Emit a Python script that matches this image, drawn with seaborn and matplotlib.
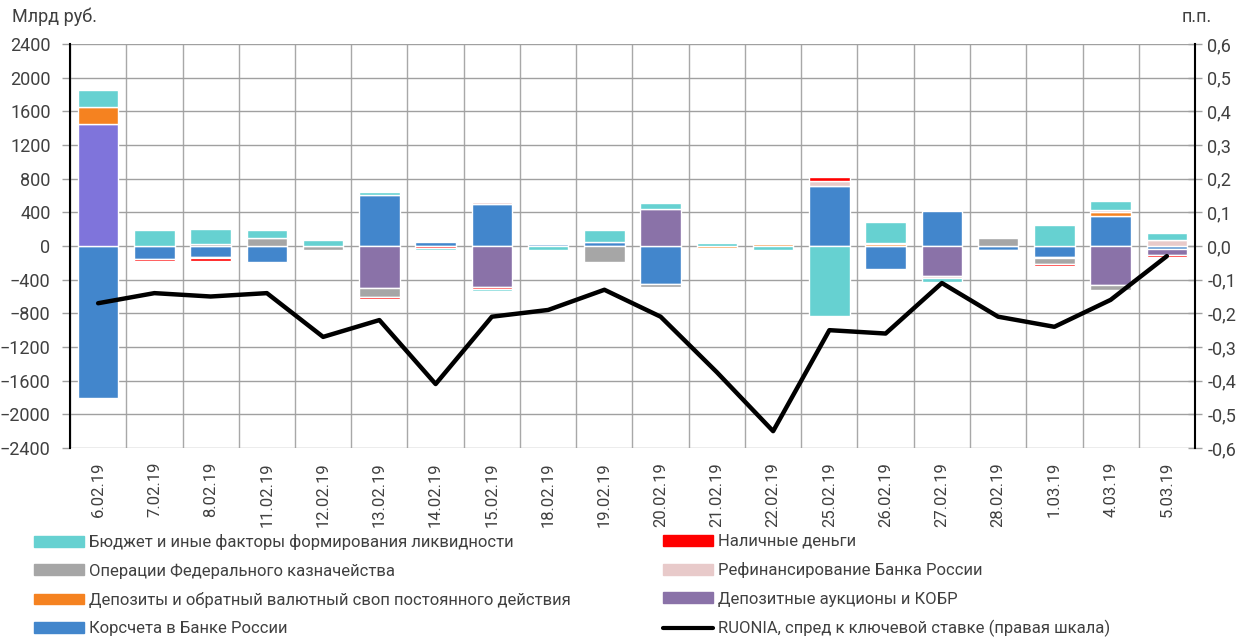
import numpy as np
import matplotlib
matplotlib.use("Agg")
import matplotlib.pyplot as plt
from matplotlib.patches import Patch
from matplotlib.lines import Line2D
import seaborn as sns

# ==========================================================
# Data (млрд руб., RUONIA spread in п.п.)
# ==========================================================
dates = ["6.02.19", "7.02.19", "8.02.19", "11.02.19", "12.02.19", "13.02.19",
         "14.02.19", "15.02.19", "18.02.19", "19.02.19", "20.02.19", "21.02.19",
         "22.02.19", "25.02.19", "26.02.19", "27.02.19", "28.02.19", "1.03.19",
         "4.03.19", "5.03.19"]

korschet = [-1810, -150, -130, -190, 0, 605, 45, 500, 20, 50,
            -455, 0, 0, 715, -270, 420, -45, -130, 360, -30]
dep_auk = [1450, 0, 0, 0, 0, -500, 0, -490, 0, 0,
           440, 0, 0, 0, 0, -355, 0, 0, -460, -75]
depozity = [200, 0, 0, 0, 0, 0, 0, 0, 0, 0,
            0, -25, 20, 0, 20, 0, -12, -15, 45, 0]
kazna = [0, 0, 28, 90, -45, -110, 0, 0, 0, -190,
         -30, 0, 0, 0, 0, 0, 90, -70, -60, 0]
refin = [0, 0, -15, 0, 0, 0, 0, 25, 15, 0,
         0, 0, 0, 60, 0, -30, 0, 0, 20, 75]
nalich = [0, -30, -30, 0, 0, -15, -20, -20, 0, 0,
          0, 0, 0, 45, 15, 0, 0, -20, 0, -20]
budget = [200, 190, 172, 100, 75, 40, -30, -20, -45, 135,
          65, 40, -45, -830, 250, -45, -12, 255, 110, 85]
ruonia = [-0.17, -0.14, -0.15, -0.14, -0.27, -0.22, -0.41, -0.21, -0.19, -0.13,
          -0.21, -0.375, -0.55, -0.25, -0.26, -0.11, -0.21, -0.24, -0.16, -0.03]

lbl_budget = "Бюджет и иные факторы формирования ликвидности"
lbl_kazna = "Операции Федерального казначейства"
lbl_depozity = "Депозиты и обратный валютный своп постоянного действия"
lbl_korschet = "Корсчета в Банке России"
lbl_nalich = "Наличные деньги"
lbl_refin = "Рефинансирование Банка России"
lbl_dep_auk = "Депозитные аукционы и КОБР"
lbl_ruonia = "RUONIA, спред к ключевой ставке (правая шкала)"

c_teal = "#66D1D1"
c_gray = "#A6A6A6"
c_orange = "#F58220"
c_blue = "#4286CC"
c_red = "#FF0000"
c_pink = "#E8CACA"
c_purple = "#8A72A8"
txt = "#404040"

# ==========================================================
# Style
# ==========================================================
sns.set_theme(style="whitegrid")
plt.rcParams["font.family"] = ["Roboto", "DejaVu Sans"]
plt.rcParams["text.color"] = txt

fig = plt.figure(figsize=(12.51, 6.38), dpi=100)
ax = fig.add_axes([70 / 1251, 1 - 448 / 638, 1125 / 1251, 404 / 638])
ax2 = ax.twinx()

x = np.arange(len(dates))

# stacked bars: positives and negatives stacked separately (Excel order)
stack = [(korschet, c_blue), (dep_auk, c_purple), (depozity, c_orange),
         (kazna, c_gray), (refin, c_pink), (nalich, c_red), (budget, c_teal)]
pos_bottom = np.zeros(len(dates))
neg_bottom = np.zeros(len(dates))
for vals, col in stack:
    vals = np.array(vals, dtype=float)
    bottom = np.where(vals > 0, pos_bottom, neg_bottom)
    bars = ax.bar(x, vals, width=0.72, bottom=bottom, color=col,
                  edgecolor="white", linewidth=1, zorder=3)
    for p, v in zip(bars, vals):
        if v == 0:
            p.set_visible(False)
    if col == c_purple:
        bars[0].set_facecolor("#7F74DB")
    pos_bottom += np.where(vals > 0, vals, 0)
    neg_bottom += np.where(vals < 0, vals, 0)

sns.lineplot(x=x, y=ruonia, ax=ax2, color="black", linewidth=3.2, zorder=5)

# left axis
ax.set_xlim(-0.5, len(dates) - 0.5)
ax.set_ylim(-2400, 2400)
ax.set_yticks(np.arange(-2400, 2401, 400))
ax.set_xticks(x)
ax.set_xticklabels(dates, rotation=90, fontsize=12, color=txt)
ax.set_xticks(np.arange(-0.5, len(dates), 1), minor=True)
ax.grid(False)
ax.grid(which="major", axis="y", color="#A0A0A0", linewidth=1)
ax.grid(which="minor", axis="x", color="#A8A8A8", linewidth=1)
ax.set_axisbelow(True)
ax.tick_params(axis="y", which="major", left=True, direction="out", length=6,
               width=1, color="#A0A0A0", labelsize=13, labelcolor=txt, pad=8)
ax.tick_params(axis="x", which="both", length=0, pad=10)
for s in ["top", "bottom", "right"]:
    ax.spines[s].set_visible(False)
ax.spines["left"].set_color("black")
ax.spines["left"].set_linewidth(1.5)

# right axis
ax2.set_ylim(-0.6, 0.6)
ax2.set_yticks(np.round(np.arange(-0.6, 0.61, 0.1), 1))
ax2.set_yticklabels([f"{v:.1f}".replace(".", ",").replace("-0,0", "0,0")
                     for v in np.arange(-0.6, 0.61, 0.1)])
ax2.grid(False)
ax2.tick_params(axis="y", right=True, direction="inout", length=10, width=1,
                color="#A0A0A0", labelsize=13, labelcolor=txt, pad=4)
for s in ["top", "bottom", "left"]:
    ax2.spines[s].set_visible(False)
ax2.spines["right"].set_color("black")
ax2.spines["right"].set_linewidth(1.5)
ax2.set_xlim(-0.5, len(dates) - 0.5)

fig.text(12 / 1251, 1 - 17 / 638, "Млрд руб.", fontsize=13, color=txt, va="center")
fig.text(1197 / 1251, 1 - 17 / 638, "п.п.", fontsize=13, color=txt, va="center", ha="center")

# legends (two columns as in the original)
handles1 = [Patch(color=c_teal), Patch(color=c_gray), Patch(color=c_orange), Patch(color=c_blue)]
labels1 = [lbl_budget, lbl_kazna, lbl_depozity, lbl_korschet]
handles2 = [Patch(color=c_red), Patch(color=c_pink), Patch(color=c_purple),
            Line2D([], [], color="black", linewidth=3)]
labels2 = [lbl_nalich, lbl_refin, lbl_dep_auk, lbl_ruonia]
leg_kw = dict(loc="upper left", frameon=False, borderpad=0, borderaxespad=0,
              handlelength=3.0, handleheight=0.62, handletextpad=0.3,
              labelspacing=0.8, fontsize=12, labelcolor=txt)
fig.legend(handles1, labels1, bbox_to_anchor=(34 / 1251, 1 - 534 / 638), **leg_kw)
fig.legend(handles2, labels2, bbox_to_anchor=(663 / 1251, 1 - 534 / 638), **leg_kw)

plt.savefig("out.png", dpi=100)
